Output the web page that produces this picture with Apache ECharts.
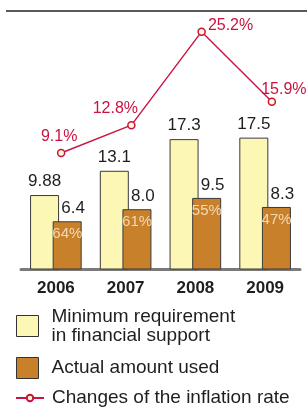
<!DOCTYPE html>
<html>
<head>
<meta charset="utf-8">
<script src="https://cdn.jsdelivr.net/npm/echarts@6/dist/echarts.min.js"></script>
<style>
html,body{margin:0;padding:0;background:#fff;}
#chart{width:307px;height:408px;}
</style>
</head>
<body>
<div id="chart"></div>
<script>
const years = ['2006', '2007', '2008', '2009'];
const minRequirement = [9.88, 13.1, 17.3, 17.5];
const minRequirementLabels = ['9.88', '13.1', '17.3', '17.5'];
const actualUsed = [6.4, 8.0, 9.5, 8.3];
const actualUsedLabels = ['6.4', '8.0', '9.5', '8.3'];
const usedShare = [64, 61, 55, 47];
const inflation = [9.1, 12.8, 25.2, 15.9];

const FONT = '"Liberation Sans", Arial, sans-serif';
const RED = '#c8143f';

const chart = echarts.init(document.getElementById('chart'), null, {renderer: 'canvas'});

const inflationLabelCfg = [
  {position: 'top', offset: [-2, 1]},
  {position: 'top', offset: [-16, 1]},
  {position: 'right', offset: [-3, -6]},
  {position: 'top', offset: [12, 5]}
];

const option = {
  animation: false,
  backgroundColor: '#fff',
  textStyle: {fontFamily: FONT},
  graphic: [{
    type: 'line',
    shape: {x1: 6, y1: 11, x2: 307, y2: 11},
    style: {stroke: '#222', lineWidth: 1.5}
  }],
  grid: [
    {left: 21, right: 7, top: 13, bottom: 138.5},
    {left: 26, right: 0, top: 13, bottom: 138.5}
  ],
  xAxis: [
    {
      type: 'category', gridIndex: 0, data: years,
      axisLine: {lineStyle: {color: '#7a7a7a', width: 3}},
      axisTick: {show: false},
      axisLabel: {fontFamily: FONT, fontWeight: 'bold', fontSize: 17, color: '#1e1e1e', margin: 10}
    },
    {
      type: 'category', gridIndex: 1, data: years, show: false
    }
  ],
  yAxis: [
    {type: 'value', gridIndex: 0, min: 0, max: 34.04, show: false, splitLine: {show: false}},
    {type: 'value', gridIndex: 1, min: -6.357, max: 27.68, show: false, splitLine: {show: false}}
  ],
  legend: [
    {
      data: ['Minimum requirement\nin financial support'],
      orient: 'vertical', left: 16, top: 307, padding: 0,
      itemWidth: 22, itemHeight: 21, icon: 'rect',
      itemStyle: {borderColor: '#333', borderWidth: 1},
      textStyle: {fontFamily: FONT, fontSize: 19, lineHeight: 19, color: '#1e1e1e', padding: [0, 0, 0, 8]},
      selectedMode: false
    },
    {
      data: ['Actual amount used'],
      orient: 'vertical', left: 16, top: 357, padding: 0,
      itemWidth: 22, itemHeight: 21, icon: 'rect',
      itemStyle: {borderColor: '#333', borderWidth: 1},
      textStyle: {fontFamily: FONT, fontSize: 19, lineHeight: 20, color: '#1e1e1e', padding: [0, 0, 0, 8]},
      selectedMode: false
    },
    {
      data: ['Changes of the inflation rate'],
      orient: 'vertical', left: 15, top: 387, padding: 0,
      itemWidth: 28, itemHeight: 8,
      textStyle: {fontFamily: FONT, fontSize: 19, lineHeight: 22, color: '#1e1e1e', padding: [0, 0, 0, 3]},
      selectedMode: false
    }
  ],
  series: [
    {
      name: 'Minimum requirement\nin financial support',
      type: 'bar', xAxisIndex: 0, yAxisIndex: 0,
      data: minRequirement,
      barWidth: 29, barGap: '-22%',
      itemStyle: {color: '#fdf7b6', borderColor: '#3a3a3a', borderWidth: 1},
      label: {
        show: true, position: 'top', distance: 5,
        fontFamily: FONT, fontSize: 17, color: '#1e1e1e',
        formatter: p => minRequirementLabels[p.dataIndex]
      },
      z: 2
    },
    {
      name: 'Actual amount used',
      type: 'bar', xAxisIndex: 0, yAxisIndex: 0,
      data: actualUsed,
      barWidth: 29,
      itemStyle: {color: '#c9802a', borderColor: '#3a3a3a', borderWidth: 1},
      label: {
        show: true, position: 'top', distance: 4, offset: [6, 0],
        fontFamily: FONT, fontSize: 17, color: '#1e1e1e',
        formatter: p => actualUsedLabels[p.dataIndex]
      },
      z: 3
    },
    {
      name: 'share',
      type: 'scatter', xAxisIndex: 0, yAxisIndex: 0,
      data: actualUsed,
      symbolSize: 0,
      silent: true,
      label: {
        show: true, position: 'bottom', distance: 5, offset: [11.5, 0],
        fontFamily: FONT, fontSize: 15, color: '#fcefd6',
        formatter: p => usedShare[p.dataIndex] + '%'
      },
      z: 5
    },
    {
      name: 'Changes of the inflation rate',
      type: 'line', xAxisIndex: 1, yAxisIndex: 1,
      data: inflation.map((v, i) => ({
        value: v,
        label: inflationLabelCfg[i]
      })),
      symbol: 'circle', symbolSize: 7,
      itemStyle: {color: '#fffbd2', borderColor: RED, borderWidth: 1.5},
      lineStyle: {color: RED, width: 1.4},
      label: {
        show: true, distance: 5,
        fontFamily: FONT, fontSize: 16, color: RED,
        formatter: p => p.value + '%'
      },
      clip: false,
      z: 6
    }
  ]
};

chart.setOption(option);
</script>
</body>
</html>
